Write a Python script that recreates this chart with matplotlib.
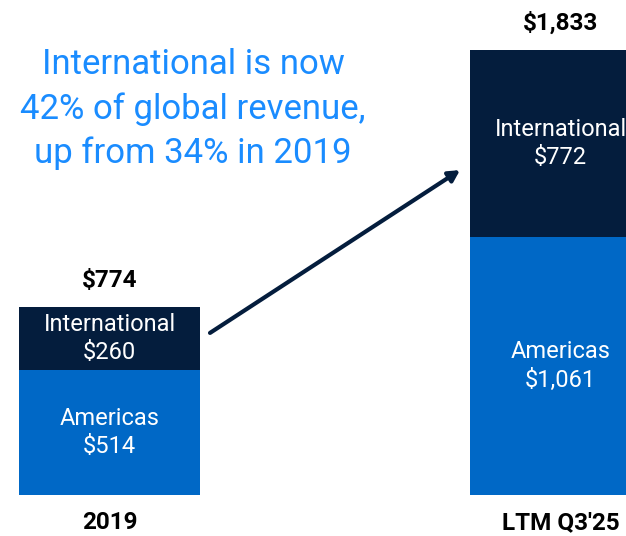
import matplotlib
matplotlib.use("Agg")
import matplotlib.pyplot as plt

periods = ["2019", "LTM Q3'25"]
americas = [514, 1061]
international = [260, 772]
totals = [774, 1833]

navy = "#041d3d"
blue = "#0068c6"
accent = "#1a8cff"

plt.rcParams["font.family"] = ["Roboto", "DejaVu Sans"]

fig = plt.figure(figsize=(6.26, 5.36), dpi=100)
ax = fig.add_axes([0, 0, 1, 1])
ax.set_xlim(0, 626)
ax.set_ylim(-168.7, 2037)
ax.axis("off")

centers = [109.5, 560.5]
width = 181

ax.bar(centers, americas, width=width, color=blue, edgecolor="none")
ax.bar(centers, international, width=width, bottom=americas, color=navy, edgecolor="none")

for x, a, i, t, p in zip(centers, americas, international, totals, periods):
    ax.text(x, a / 2, f"Americas\n${a:,}", ha="center", va="center",
            color="white", fontsize=17, linespacing=1.3)
    ax.text(x, a + i / 2, f"International\n${i:,}", ha="center", va="center",
            color="white", fontsize=17, linespacing=1.3)
    ax.text(x, t + 107, f"${t:,}", ha="center", va="center",
            color="black", fontsize=17.5, fontweight="bold")
    ax.text(x, -115, p, ha="center", va="center",
            color="black", fontsize=17.5, fontweight="bold")

ax.annotate("", xy=(460, 1337), xytext=(210, 667),
            arrowprops=dict(arrowstyle="-|>,head_length=0.65,head_width=0.35",
                            color=navy, lw=3, shrinkA=0, shrinkB=0))

fig.text(193 / 626, 1 - 109 / 536,
         "International is now\n42% of global revenue,\nup from 34% in 2019",
         ha="center", va="center", color=accent, fontsize=25, linespacing=1.42)

fig.savefig("out.png", dpi=100)
